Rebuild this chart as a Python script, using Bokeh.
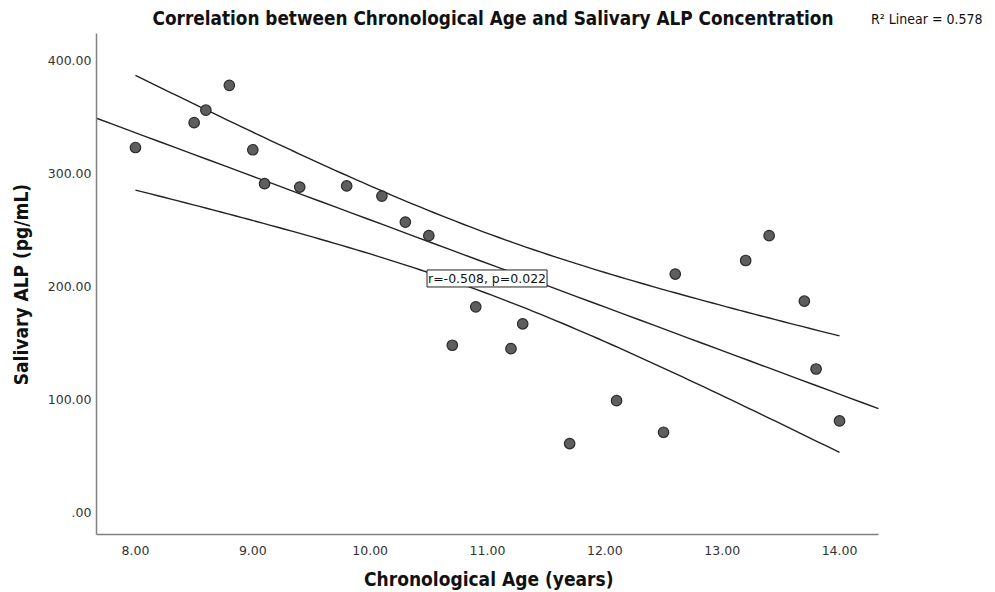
import numpy as np
from bokeh.plotting import figure
from bokeh.models import Range1d, FixedTicker, Label, ColumnDataSource
from bokeh.embed import file_html
from bokeh.resources import INLINE

# Data
age = [8.0, 8.5, 8.6, 8.8, 9.0, 9.1, 9.4, 9.8, 10.1, 10.3, 10.5, 10.7,
       10.9, 11.2, 11.3, 11.7, 12.1, 12.5, 12.6, 13.2, 13.4, 13.7, 13.8, 14.0]
alp = [323, 345, 356, 378, 321, 291, 288, 289, 280, 257, 245, 148,
       182, 145, 167, 61, 99, 71, 211, 223, 245, 187, 127, 81]

x_ticks = [8, 9, 10, 11, 12, 13, 14]
x_tick_labels = ["8.00", "9.00", "10.00", "11.00", "12.00", "13.00", "14.00"]
y_ticks = [0, 100, 200, 300, 400]
y_tick_labels = [".00", "100.00", "200.00", "300.00", "400.00"]

title_text = "Correlation between Chronological Age and Salivary ALP Concentration"
r2_text = "R\u00b2 Linear = 0.578"
stat_text = "r=-0.508, p=0.022"
x_label = "Chronological Age (years)"
y_label = "Salivary ALP (pg/mL)"

# visible axis extents (data units) and full frame ranges
AX_XMIN, AX_XMAX = 7.668, 14.332
AX_YMIN, AX_YMAX = -19.47, 423.9
FR_XMAX = 15.329
FR_YMAX = 453.1

# Linear fit and 95% mean confidence band
xa = np.array(age, dtype=float)
ya = np.array(alp, dtype=float)
n = len(xa)
b1, b0 = np.polyfit(xa, ya, 1)
resid = ya - (b0 + b1 * xa)
s = np.sqrt(np.sum(resid ** 2) / (n - 2))
sxx = np.sum((xa - xa.mean()) ** 2)
t_crit = 2.074
xf = np.linspace(AX_XMIN, AX_XMAX, 50)
yf = b0 + b1 * xf
xc = np.linspace(xa.min(), xa.max(), 100)
yc = b0 + b1 * xc
half = t_crit * s * np.sqrt(1.0 / n + (xc - xa.mean()) ** 2 / sxx)

p = figure(width=995, height=592, output_backend="svg", toolbar_location=None,
           x_range=Range1d(AX_XMIN, FR_XMAX), y_range=Range1d(AX_YMIN, FR_YMAX),
           min_border_left=96, min_border_right=0, min_border_top=0,
           min_border_bottom=58)
p.outline_line_color = None
p.grid.visible = False
p.background_fill_color = "white"
p.border_fill_color = "white"

for ax in (p.xaxis[0], p.yaxis[0]):
    ax.axis_line_color = "#808080"
    ax.axis_line_width = 1.5
    ax.major_tick_line_color = None
    ax.minor_tick_line_color = None
    ax.major_tick_out = 0
    ax.major_tick_in = 0
    ax.minor_tick_out = 0
    ax.major_label_text_font = "DejaVu Sans"
    ax.major_label_text_font_size = "12.5px"
    ax.major_label_text_color = "#333333"
    ax.axis_label_text_font = "DejaVu Sans Condensed"
    ax.axis_label_text_font_style = "bold"
    ax.axis_label_text_font_size = "19px"
    ax.axis_label_text_color = "#111111"

# The frame extends past the axis lines (for the title / R² text), so the
# axis labels are padded with wide spaces to sit centred under the axis lines.
EM = "\u2003"
p.xaxis.bounds = (AX_XMIN, AX_XMAX)
p.yaxis.bounds = (AX_YMIN, AX_YMAX)
p.xaxis.ticker = FixedTicker(ticks=x_ticks)
p.xaxis.major_label_overrides = {t: l for t, l in zip(x_ticks, x_tick_labels)}
p.yaxis.ticker = FixedTicker(ticks=y_ticks)
p.yaxis.major_label_overrides = {t: l for t, l in zip(y_ticks, y_tick_labels)}
p.xaxis.axis_label = x_label + EM * 6 + "\u2002\u2009"
p.yaxis.axis_label = y_label + EM * 2
p.xaxis.major_label_standoff = 11
p.yaxis.major_label_standoff = 5
p.xaxis.axis_label_standoff = 10
p.yaxis.axis_label_standoff = 13

p.line(xf, yf, line_color="#222222", line_width=1.4)
p.line(xc, yc + half, line_color="#222222", line_width=1.4)
p.line(xc, yc - half, line_color="#222222", line_width=1.4)

p.scatter(x="age", y="alp", source=ColumnDataSource(dict(age=age, alp=alp)),
          size=10.5, fill_color="#5e5e5e", line_color="#2a2a2a", line_width=1.2)

p.add_layout(Label(x=10.996, y=207.1, text=stat_text, text_align="center",
                   text_baseline="middle", text_font="DejaVu Sans",
                   text_font_size="12.5px", text_color="#111111",
                   background_fill_color="white", border_line_color="#222222",
                   border_line_width=1, padding=1))

p.add_layout(Label(x=11.047, y=437.2, text=title_text,
                   text_align="center", text_baseline="middle",
                   text_font="DejaVu Sans Condensed", text_font_style="bold",
                   text_font_size="18.8px", text_color="#111111"))

p.add_layout(Label(x=15.219, y=436.3, text=r2_text,
                   text_align="right", text_baseline="middle",
                   text_font="DejaVu Sans Condensed", text_font_size="14px",
                   text_color="#111111"))

open("out.html", "w").write(file_html(p, INLINE))
